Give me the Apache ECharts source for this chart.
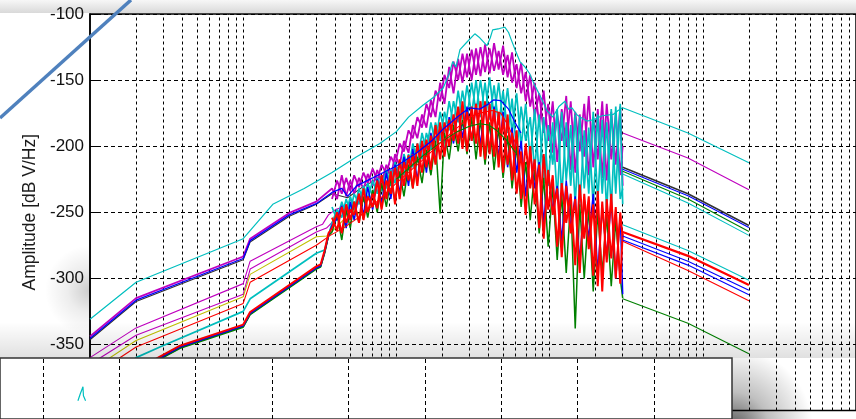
<!DOCTYPE html>
<html>
<head>
<meta charset="utf-8">
<script src="https://cdn.jsdelivr.net/npm/echarts@6/dist/echarts.min.js"></script>
<style>
html, body { margin: 0; padding: 0; background: #fff; }
#chart { width: 856px; height: 419px; }
</style>
</head>
<body>
<div id="chart"></div>
<script>
// frequency grid of the noisy middle section (Hz)
var fNoise = [38, 41, 44, 47, 50, 53, 57, 61, 65, 70, 75, 80, 86, 92, 98, 105, 112, 120, 128, 137,
  147, 157, 168, 180, 193, 206, 221, 236, 253, 270, 289, 310, 331, 354, 379, 406, 434, 465, 497, 532,
  569, 609, 652, 698, 747, 799, 855, 915, 979, 1048, 1121, 1200, 1284, 1374, 1470, 1573, 1683, 1801, 1927, 2062,
  2206, 2360, 2526, 2703, 2892, 3000];

var magNoiseA = [-232,-240,-222,-238,-226,-236,-224,-233,-221,-230, -218,-228,-214,-224,-206,-215,-196,-205,-184,-194,
  -176,-186,-165,-178,-152,-168,-140,-160,-134,-152, -130,-150,-126,-147,-123,-145,-122,-142,-124,-148,
  -129,-156,-137,-166,-146,-178,-160,-190,-168,-205, -176,-196,-162,-218,-174,-204,-168,-222,-178,-210,
  -166,-226,-174,-214,-170,-230];
var magNoiseB = [-240,-226,-236,-224,-234,-222,-231,-220,-228,-217, -226,-214,-221,-208,-214,-198,-204,-188,-194,-178,
  -186,-168,-178,-158,-166,-146,-156,-136,-150,-130, -148,-127,-146,-125,-144,-126,-143,-128,-146,-131,
  -152,-138,-160,-144,-170,-152,-184,-158,-196,-166, -212,-172,-200,-166,-220,-176,-208,-162,-216,-172,
  -224,-168,-210,-176,-222,-200];
var cyanNoiseA = [-258,-248,-254,-240,-250,-236,-244,-230,-240,-226, -236,-222,-232,-218,-228,-212,-222,-206,-216,-198,
  -210,-190,-202,-182,-196,-174,-188,-166,-182,-158, -178,-152,-174,-150,-176,-148,-178,-152,-182,-156,
  -190,-160,-200,-168,-210,-172,-222,-178,-230,-182, -240,-174,-226,-184,-244,-178,-232,-186,-246,-176,
  -236,-182,-248,-170,-240,-232];
var cyanNoiseB = [-246,-256,-242,-252,-238,-248,-232,-242,-228,-238, -224,-234,-218,-230,-212,-224,-206,-218,-198,-212,
  -190,-204,-182,-198,-174,-190,-166,-184,-158,-180, -154,-176,-150,-178,-152,-180,-154,-184,-158,-190,
  -164,-204,-170,-196,-178,-218,-176,-228,-184,-214, -172,-238,-182,-230,-176,-246,-188,-236,-174,-242,
  -180,-250,-172,-236,-168,-244];
var redNoiseA = [-262,-250,-266,-244,-256,-242,-258,-232,-250,-236, -247,-222,-240,-219,-244,-210,-230,-207,-232,-198,
  -220,-195,-218,-184,-210,-182,-200,-176,-198,-166, -204,-170,-198,-166,-210,-168,-208,-174,-220,-176,
  -226,-188,-240,-198,-232,-210,-262,-206,-248,-222, -276,-228,-258,-236,-290,-229,-270,-238,-298,-234,
  -310,-240,-285,-246,-304,-266];
var redNoiseB = [-254,-264,-246,-258,-248,-252,-236,-256,-238,-246, -226,-248,-226,-236,-216,-240,-212,-226,-206,-230,
  -196,-216,-192,-214,-182,-208,-180,-196,-170,-202, -174,-196,-168,-208,-166,-206,-172,-216,-178,-214,
  -190,-236,-204,-252,-200,-244,-214,-270,-218,-252, -232,-284,-230,-266,-240,-296,-236,-278,-244,-306,
  -242,-288,-236,-300,-250,-270];
var blueNoise = [-260,-255,-245,-262,-242,-256,-236,-252,-231,-248, -225,-244,-220,-240,-214,-236,-208,-230,-202,-226,
  -196,-220,-190,-212,-184,-206,-178,-198,-172,-194, -170,-196,-168,-200,-167,-204,-170,-210,-174,-216,
  -186,-220,-196,-238,-204,-232,-212,-258,-220,-248, -230,-272,-226,-262,-238,-288,-240,-270,-236,-296,
  -246,-284,-240,-300,-252,-312];
var greenNoise = [-265,-252,-271,-248,-262,-242,-258,-238,-254,-233, -250,-228,-246,-224,-242,-219,-238,-214,-232,-208,
  -228,-203,-222,-196,-251,-190,-210,-184,-204,-180, -206,-178,-210,-180,-214,-182,-218,-186,-224,-192,
  -232,-200,-246,-212,-256,-218,-266,-224,-276,-230, -286,-236,-296,-240,-338,-244,-300,-246,-310,-250,
  -296,-252,-306,-256,-300,-315];

// smooth traces [Hz, dB]
var cyanTop = [[1,-331],[2,-303],[10,-270],[15.6,-244],[25,-232],[38,-220],[55,-208],[78,-198],[100,-189],[120,-178],
  [149,-169],[175,-163],[202,-156],[220,-146],[233,-136],[245,-140],[260,-127],[290,-121],[325,-115],[350,-118],
  [390,-124],[410,-118],[425,-112],[470,-111],[510,-110],[540,-114],[560,-119],[600,-128],[640,-136],[690,-140],
  [740,-145],[800,-154],[860,-161],[960,-173],[1050,-178],[1150,-170],[1260,-166],[1330,-172],[1400,-171],[1500,-176],
  [1580,-178],[1750,-181],[1930,-180],[2200,-177],[2600,-176],[2800,-173],[3000,-171]];
var magentaLow = [[1,-344],[2,-315],[10,-283.5],[11.1,-270],[20,-250.5],[30,-242]];
var blackLow = [[1,-346.5],[2,-317.5],[10,-286],[11.1,-272.5],[20,-253],[30,-244],[38,-236],[48,-239],[60,-231],[80,-223],[100,-217],[136,-207]];
var blueLow = [[1,-345.5],[2,-316.5],[10,-285],[11.1,-271.5],[20,-252],[30,-243.5],[38,-235],[44,-232],[48,-238],[55,-230],
  [70,-224],[100,-215],[136,-205],[170,-196],[202,-187],[250,-178],[300,-171],[350,-172],[400,-168],[430,-165],
  [480,-165.5],[540,-172],[600,-183],[650,-190]];
var magentaC1 = [[1,-360],[2,-337.5],[10,-304],[11.1,-287],[30,-261],[33,-259],[36,-252],[40,-248],[45,-246],[50,-250]];
var magentaC2 = [[1,-365],[2,-343],[10,-312],[11.1,-293],[30,-265],[35,-262],[40,-255],[45,-252]];
var yellowC = [[1,-370],[2,-347],[10,-314],[11.1,-297],[30,-268.5],[35,-268],[40,-262],[45,-256],[50,-249],[60,-252]];
var redC = [[1,-375],[2,-352],[10,-319],[11.1,-303],[30,-275],[37,-267.5],[45,-262],[55,-255],[70,-245],[100,-228],
  [150,-210],[200,-196],[250,-186],[300,-178],[350,-175],[420,-173],[480,-175],[540,-185],[600,-198]];
var cyanC = [[1,-390],[2,-360],[2.86,-352],[10,-325],[11.1,-315.5],[30,-281],[34,-278.5]];
var greenHump = [[100,-225],[150,-207],[200,-196],[250,-189],[300,-185],[350,-183],[400,-184],[450,-188],[520,-195],[600,-205]];
var blueD = [[1,-392],[2,-370],[3.87,-352],[10,-336],[11.1,-326.5],[30,-292],[32,-290.5],[34,-280],[36,-267.5]];
var redD = [[1,-391],[2,-369],[3.87,-351],[10,-335],[11.1,-325.5],[30,-291],[32,-289.5],[34,-279],[36,-266]];
var greenD = [[1,-393],[2,-371],[3.87,-353],[10,-337],[11.1,-327.5],[30,-293],[32,-291.5],[34,-281],[36,-268]];
var blackD = [[1,-392.5],[2,-370.5],[3.87,-352.5],[10,-336.5],[11.1,-327],[30,-292.5],[32,-291],[34,-280.5],[36,-268]];

// straight tails above 3 kHz
var extFreq = [3000, 8000, 20000];
var extCyanA = [-171, -190, -212.5];
var extMagenta = [-190, -209, -233];
var extBlack = [-216, -236, -260];
var extBlueA = [-217.5, -237.5, -261.5];
var extGreenA = [-219, -240, -264.5];
var extCyanB = [-221, -243, -267.5];
var extCyanC = [-259.5, -279, -301.5];
var extRedA = [-265, -283, -305];
var extBlueB = [-268, -287, -309];
var extBlueC = [-271, -290, -312.5];
var extRedB = [-272, -294, -317];
var extGreenB = [-315.5, -334, -357];

var yTicks = [-400, -350, -300, -250, -200, -150, -100];
var vGrid = [2,3,4,5,6,7,8,9,10,20,30,40,50,60,70,80,90,100,200,300,400,500,600,700,800,900,1000,
  2000,3000,4000,5000,6000,7000,8000,9000,10000,20000,30000,40000,50000,60000,70000,80000,90000];

// lower (overlapping) panel
var panelGrid = [0.563, 1.563, 2.563, 3.563, 4.563, 5.563, 6.563, 7.563, 8.563];
var panelSpike = [[1.02,30],[1.05,41],[1.07,41.5],[1.086,53],[1.092,38],[1.12,30]];

var C = { blue: '#0000ff', green: '#008000', red: '#ff0000', cyan: '#00bfbf', magenta: '#bf00bf', yellow: '#bfbf00', black: '#303030' };

function withNoise(low, noise) {
    return low.concat(fNoise.map(function (f, i) { return [f, noise[i]]; }));
}
function noiseOnly(noise) {
    return fNoise.map(function (f, i) { return [f, noise[i]]; });
}
function tail(vals) {
    return extFreq.map(function (f, i) { return [f, vals[i]]; });
}
function line(data, color, width) {
    return {
        type: 'line', data: data, xAxisIndex: 0, yAxisIndex: 0,
        symbol: 'none', silent: true, z: 2,
        lineStyle: { color: color, width: width || 1.1 },
        emphasis: { disabled: true }
    };
}

var series = [];
series.push({
    type: 'line', data: [], xAxisIndex: 0, yAxisIndex: 0, silent: true, z: 1,
    markLine: {
        silent: true, z: 1, symbol: ['none', 'none'], label: { show: false }, animation: false,
        lineStyle: { color: '#000', type: [3, 3], width: 1 },
        data: vGrid.map(function (v) { return { xAxis: v }; })
    }
});
series.push(line(blackLow, C.black));
series.push(line(magentaC1, C.magenta));
series.push(line(magentaC2, C.magenta));
series.push(line(yellowC, C.yellow));
series.push(line(withNoise(magentaLow, magNoiseA), C.magenta, 1.8));
series.push(line(noiseOnly(magNoiseB), C.magenta, 1.8));
series.push(line(withNoise(cyanC, cyanNoiseA), C.cyan, 1.7));
series.push(line(noiseOnly(cyanNoiseB), C.cyan, 1.7));
series.push(line(blackD, C.black, 1.5));
series.push(line(withNoise(greenD, greenNoise), C.green, 1.5));
series.push(line(withNoise(blueD, blueNoise), C.blue, 1.5));
series.push(line(withNoise(redD, redNoiseA), C.red, 2));
series.push(line(noiseOnly(redNoiseB), C.red, 2));
series.push(line(greenHump, C.green));
series.push(line(redC, C.red));
series.push(line(blueLow, C.blue, 1.3));
series.push(line(cyanTop, C.cyan, 1.2));
series.push(line(tail(extCyanA), C.cyan));
series.push(line(tail(extMagenta), C.magenta));
series.push(line(tail(extCyanB), C.cyan));
series.push(line(tail(extGreenA), C.green));
series.push(line(tail(extBlueA), C.blue));
series.push(line(tail(extBlack), C.black, 1.5));
series.push(line(tail(extCyanC), C.cyan));
series.push(line(tail(extRedB), C.red));
series.push(line(tail(extBlueC), C.blue));
series.push(line(tail(extBlueB), C.blue));
series.push(line(tail(extRedA), C.red, 2.2));
series.push(line(tail(extGreenB), C.green));
series.push({
    type: 'line', data: panelSpike, xAxisIndex: 1, yAxisIndex: 1, symbol: 'none', silent: true, z: 12,
    lineStyle: { color: C.cyan, width: 1.2 },
    markLine: {
        silent: true, z: 12, symbol: ['none', 'none'], label: { show: false }, animation: false,
        lineStyle: { color: '#000', type: [4, 3], width: 1 },
        data: panelGrid.map(function (v) { return { xAxis: v }; })
    }
});

var chart = echarts.init(document.getElementById('chart'), null, { renderer: 'canvas' });
chart.setOption({
    animation: false,
    backgroundColor: '#ffffff',
    grid: [
        { left: 90, top: 14, right: 0, height: 408, show: true, backgroundColor: '#fff', borderColor: '#000', borderWidth: 1.5 },
        { left: 0, top: 358, width: 732, height: 100, show: true, backgroundColor: '#fff', borderColor: '#333', borderWidth: 1.5, z: 10 }
    ],
    xAxis: [
        { type: 'log', logBase: 10, min: 1, max: 100000, gridIndex: 0,
          axisLine: { show: false }, axisTick: { show: false }, axisLabel: { show: false }, splitLine: { show: false } },
        { type: 'value', gridIndex: 1, min: 0, max: 9.581, z: 11,
          axisLine: { show: false }, axisTick: { show: false }, axisLabel: { show: false }, splitLine: { show: false } }
    ],
    yAxis: [
        { type: 'value', gridIndex: 0, min: yTicks[0], max: yTicks[yTicks.length - 1], interval: 50,
          axisLine: { show: true, lineStyle: { color: '#000', width: 1.5 } },
          axisTick: { show: true, inside: true, length: 9, lineStyle: { color: '#000', width: 1 } },
          axisLabel: { fontSize: 17, color: '#111', margin: 6, fontFamily: 'Liberation Sans' },
          splitLine: { show: true, lineStyle: { color: '#000', type: [4, 3], width: 1 } },
          name: 'Amplitude [dB V/Hz]', nameLocation: 'middle', nameGap: 51,
          nameTextStyle: { fontSize: 17.5, color: '#1a1a1a', fontFamily: 'Liberation Sans' } },
        { type: 'value', gridIndex: 1, min: 0, max: 100, show: false, z: 11 }
    ],
    graphic: [
        { type: 'rect', shape: { x: 0, y: 0, width: 856, height: 13 }, z: 0, silent: true,
          style: { fill: new echarts.graphic.LinearGradient(0, 0, 0, 1, [{ offset: 0, color: '#f7f7f7' }, { offset: 1, color: '#d9d9d9' }]) } },
        { type: 'rect', shape: { x: 40, y: 20, width: 50, height: 338 }, z: 0, silent: true,
          style: { fill: new echarts.graphic.RadialGradient(1, 0.8, 0.9, [{ offset: 0, color: 'rgba(0,0,0,0.2)' }, { offset: 0.5, color: 'rgba(0,0,0,0.07)' }, { offset: 1, color: 'rgba(0,0,0,0)' }]) } },
        { type: 'rect', shape: { x: 0, y: 322, width: 856, height: 36 }, z: 9, silent: true,
          style: { fill: new echarts.graphic.LinearGradient(0, 0, 0, 1, [{ offset: 0, color: 'rgba(0,0,0,0)' }, { offset: 1, color: 'rgba(0,0,0,0.12)' }]) } },
        { type: 'rect', shape: { x: 732, y: 358, width: 90, height: 61 }, z: 9, silent: true,
          style: { fill: new echarts.graphic.RadialGradient(733, 428, 80, [{ offset: 0, color: 'rgba(0,0,0,0.65)' }, { offset: 0.45, color: 'rgba(0,0,0,0.25)' }, { offset: 1, color: 'rgba(0,0,0,0)' }], true) } },
        { type: 'line', shape: { x1: 0, y1: 118, x2: 131, y2: 0 }, z: 20, silent: true,
          style: { stroke: '#4f81bd', lineWidth: 3.5 } }
    ],
    series: series
});
</script>
</body>
</html>
